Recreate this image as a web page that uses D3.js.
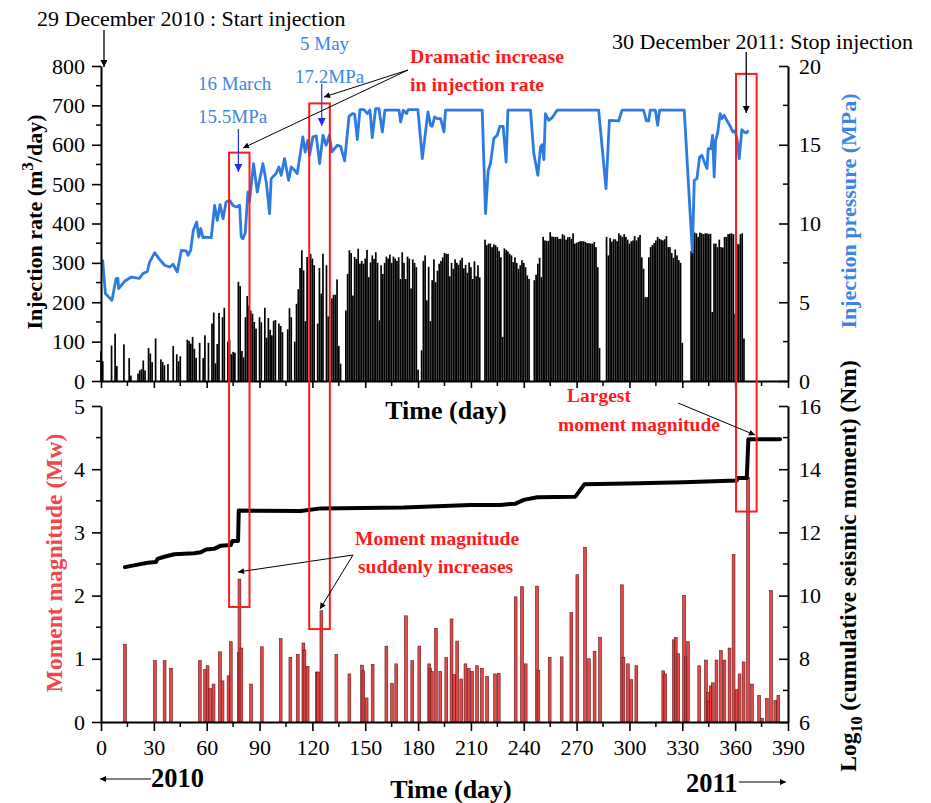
<!DOCTYPE html>
<html><head><meta charset="utf-8">
<script src="https://cdn.jsdelivr.net/npm/d3@7"></script>
<style>body{margin:0;background:#fff}svg{display:block}</style>
</head><body>
<svg id="chart" width="931" height="803"></svg>
<script>
// ---------- DATA ----------
// daily injection rate (m3/day), day 0 .. 365
const rateValues = [
76,50,0,0,0,0,90,0,120,38,
0,0,0,93,0,0,58,14,0,0,
0,19,27,30,52,27,0,84,70,48,
0,108,0,0,55,48,40,0,43,0,
0,89,0,68,50,63,0,0,0,105,
102,95,112,82,59,0,97,0,58,116,
0,97,0,146,174,45,94,173,0,162,
186,0,100,105,68,74,72,0,252,241,
76,60,162,216,192,179,171,150,133,0,
162,149,0,186,110,160,130,116,153,155,
0,146,140,124,0,0,131,185,162,0,
100,196,233,287,332,281,152,315,0,323,
311,294,0,146,287,222,323,0,294,164,
0,210,219,219,258,89,44,0,0,179,
272,332,325,217,315,310,336,298,305,298,
311,333,264,301,319,310,327,300,154,294,
272,300,316,311,321,300,316,311,305,314,
259,327,300,259,316,311,235,309,300,289,
29,0,78,305,319,205,290,152,256,309,
251,280,298,305,314,325,323,323,266,300,
285,309,300,295,307,313,286,295,275,301,
289,259,304,266,294,263,0,0,359,345,
349,349,340,347,345,340,330,314,112,337,
333,329,323,319,302,314,300,285,294,307,
300,289,268,259,0,0,256,270,298,313,
264,366,357,356,356,378,367,366,366,366,
361,361,373,370,359,365,366,361,375,349,
351,353,355,355,355,353,350,350,349,349,
353,340,289,84,0,0,0,366,319,363,
354,360,360,355,375,370,366,373,366,359,
349,355,357,368,357,365,371,314,285,213,
213,314,340,345,350,357,366,361,359,357,
360,368,340,340,325,313,334,319,307,300,
97,0,0,0,0,330,366,377,375,366,
377,375,373,375,375,373,374,175,349,349,
340,359,340,339,366,366,373,374,375,373,
171,349,347,373,375,108
];

// injection pressure (MPa)
const pressDays = [0.9,2.5,6.2,7.3,8.6,9.6,10,13.4,17.2,21.9,23.8,26.3,27.6,30.5,32.9,36.1,39,40.9,43.3,45.6,48.4,49.4,50.9,52.4,54.3,55.5,56.6,57.9,58.9,62.6,64.5,66,67.6,69.3,71,73,74.9,76.8,78.7,79.6,80.6,81.9,83.4,84.3,86.6,88.7,91.9,93.8,95.7,96.6,99.4,101,102.3,104.2,106.5,108,109.9,111.4,114.6,115.9,117.4,118.4,120.3,122.2,124.1,126,127.8,129.7,131,134.2,136,138.3,140.8,142.7,144,145.5,147,149.3,151.2,152.7,154,155.9,157.8,159.7,161.2,169.2,170.1,171.6,173.5,174.3,179.9,182.4,185.6,187.1,188,189.4,190.9,192.8,194.7,195.6,216.4,218.3,219.8,221.1,223,224.9,226.4,228.3,230,231,243.8,245.7,248,249.5,250.4,251.4,252.3,254.2,256.1,259,282.5,286.7,288.6,293.9,295.8,308,309.6,310.9,311.8,314.7,316,317.1,331.1,335.7,336.8,338.3,339.8,341.1,342.5,344,344.7,346.2,347.2,348.1,348.9,350,351.5,352.5,353.8,355.3,357.2,358.7,360,361,362.3,363.8,365.1,366.3,367.6];
const pressValues = [7.7,5.55,5.12,5.76,6.5,6.52,5.87,6.33,6.6,6.52,6.82,6.95,7.55,8.15,7.77,7.35,7.24,7.41,6.92,8.3,8.26,7.98,8.3,9.57,10.1,9.14,9.68,9.1,9.14,9.1,11.15,10.2,11.2,10.3,11.36,11.47,11.15,11.05,11.15,9.14,9.04,9.4,12.0,11.4,13.8,12.0,13.8,12.64,10.63,12.85,13.17,13.59,13.06,14.12,12.74,13.59,13.38,13.17,15.5,14.54,15.28,14.33,15.5,15.56,13.8,15.6,14.97,15.6,14.54,14.97,14.9,13.97,16.8,16.98,16.95,15.33,17.23,17.23,16.98,17.2,15.45,17.29,17.29,15.81,17.2,17.2,16.44,17.2,16.98,17.23,17.23,14.12,17.08,16.23,16.17,16.76,16.66,16.66,15.81,17.2,17.2,10.63,13.38,13.8,15.39,15.6,16.17,16.17,13.9,17.2,17.2,14.44,13.06,14.86,15.0,14.06,16.98,16.55,16.72,17.2,17.2,12.21,16.55,16.51,17.2,17.2,16.51,16.51,17.2,17.2,16.23,17.2,17.2,8.19,12.74,12.85,14.22,14.33,13.9,13.49,14.75,14.75,15.6,12.95,15.28,15.7,16.98,16.66,16.87,16.55,16.17,15.81,15.9,15.4,14.12,15.96,15.81,15.75,15.9];

// earthquakes: day and moment magnitude (Mw)
const quakeDays = [13.6,30.6,36.1,39.7,56.1,59.1,60.5,62.0,63.9,67.5,69.0,72.4,73.7,78.2,78.6,79.7,85.2,91.3,102,107.5,111.7,114.9,115.5,117.3,122.5,123.2,125.1,133.6,141,148.2,148.9,150.8,154.2,162,165.2,167.6,173.1,176.7,180.7,186.3,186.9,187.8,190.1,192.6,196,199,200.5,202.2,204.5,206.9,208.8,210.7,213.5,216.2,219.2,223.7,225.8,235.4,239,241.1,247.5,248.3,254.7,261.5,267,270.4,274.8,277,280.2,283.3,295.7,296.6,299.1,301,303.9,319.2,320.3,325.2,326.3,327.7,331,332,333.2,339.6,343.4,344.5,345,346.2,347.3,349.4,351.9,353.9,356.8,359.1,360.8,362.5,364.8,367.3,369.5,373.6,375.3,378,380.4,382.8,384.5];
const quakeMw = [1.23,0.97,0.97,0.85,0.97,0.83,0.89,0.53,0.60,1.11,0.65,0.73,1.27,1.10,2.26,1.17,0.60,1.19,1.32,1.02,1.07,1.25,1.14,0.88,0.79,0.79,1.76,1.07,0.76,0.90,0.81,0.38,0.91,1.20,0.61,0.92,1.68,0.97,1.20,0.92,0.85,0.80,1.48,0.80,1.02,1.63,0.75,1.28,0.68,0.92,0.85,0.80,0.89,0.85,0.72,0.76,0.77,1.98,2.14,0.92,2.15,0.82,1.02,1.03,1.73,2.33,2.76,1.00,1.12,1.34,2.17,1.02,0.92,0.67,0.89,0.81,0.76,1.30,1.34,1.08,2.00,1.03,1.27,0.89,0.98,0.47,0.33,0.57,0.62,0.98,1.13,0.98,1.17,2.65,0.51,0.76,0.95,3.87,0.60,0.42,0.06,0.37,2.08,0.34,0.42];

// cumulative seismic moment, log10 (Nm)
const momentDays = [13.6,20.8,26.5,31.2,32.1,35.9,41.6,52.9,56.7,59.5,64.2,68,73.7,74.6,77.8,78.2,113.4,124.7,171.9,209.8,226.8,235.3,240,247.6,269.3,274.4,298.6,330.7,360.9,361.5,366.6,367.5,385.5];
const momentLog = [10.9,10.98,11.04,11.06,11.16,11.23,11.31,11.34,11.37,11.46,11.48,11.58,11.6,11.73,11.73,12.69,12.68,12.76,12.79,12.87,12.87,12.91,13.03,13.11,13.13,13.52,13.55,13.59,13.64,13.72,13.72,14.95,14.95];

const dayTicks = [0,30,60,90,120,150,180,210,240,270,300,330,360,390];
const rateTicks = [0,100,200,300,400,500,600,700,800];
const pressTicks = [0,5,10,15,20];
const mwTicks = [0,1,2,3,4,5];
const logTicks = [6,8,10,12,14,16];

// ---------- LAYOUT ----------
const svg = d3.select("#chart");
const FONT = "'Liberation Serif','Times New Roman',serif";
const BLUE_LINE = "#2c7be0", BLUE_TXT = "#3d85e3", RED = "#ff1a1a";
const TICK_FS = 22;

const x = d3.scaleLinear().domain([0,390]).range([101,788]);
const yRate = d3.scaleLinear().domain([0,800]).range([381,66]);
const yPress = d3.scaleLinear().domain([0,20]).range([381,66]);
const yMw = d3.scaleLinear().domain([0,5]).range([722,406]);
const yLog = d3.scaleLinear().domain([6,16]).range([722,406]);

const defs = svg.append("defs");
function marker(id, color, w, h){
  defs.append("marker").attr("id",id).attr("viewBox","0 0 10 10").attr("refX",10).attr("refY",5)
    .attr("markerWidth",w).attr("markerHeight",h).attr("markerUnits","userSpaceOnUse").attr("orient","auto")
    .append("path").attr("d","M0,0 L10,5 L0,10 Z").attr("fill",color);
}
marker("arrK","#000",12,7);
marker("arrKs","#000",11,6);
marker("arrB","#1a2cf0",13,8);

// ---------- TOP PANEL ----------
const gTop = svg.append("g");
gTop.selectAll("rect.rate").data(rateValues).join("rect")
  .attr("x",(d,i)=>x(i)-0.85).attr("width",1.7)
  .attr("y",d=>yRate(d)).attr("height",d=>yRate(0)-yRate(d))
  .attr("fill","#000");

const pressData = pressDays.map((d,i)=>[d,pressValues[i]]);
gTop.append("path").datum(pressData)
  .attr("d",d3.line().x(d=>x(d[0])).y(d=>yPress(d[1])))
  .attr("fill","none").attr("stroke",BLUE_LINE).attr("stroke-width",2.8).attr("stroke-linejoin","round");

function styleAxis(g){
  g.select(".domain").attr("stroke","#000").attr("stroke-width",2);
  g.selectAll(".tick line").attr("stroke","#000").attr("stroke-width",1.6);
  g.selectAll(".tick text").attr("font-family",FONT).attr("font-size",TICK_FS).attr("fill","#000");
}
function minorTicks(g, scale, vals, orient, len){
  vals.forEach(v=>{
    const p = scale(v);
    if(orient==="bottom") g.append("line").attr("class","minor").attr("x1",p).attr("x2",p).attr("y1",0).attr("y2",len);
    else g.append("line").attr("class","minor").attr("y1",p).attr("y2",p).attr("x1",0).attr("x2",-len);
  });
  g.selectAll("line.minor").attr("stroke","#000").attr("stroke-width",1.5);
}
const minorDays = d3.range(15,390,30);

// top x axis (no labels)
const gxTop = svg.append("g").attr("transform","translate(0,381)")
  .call(d3.axisBottom(x).tickValues(dayTicks).tickSize(7).tickFormat("").tickSizeOuter(0));
styleAxis(gxTop);
minorTicks(gxTop,x,minorDays,"bottom",5);

// left rate axis
const gyRate = svg.append("g").attr("transform","translate(101,0)")
  .call(d3.axisLeft(yRate).tickValues(rateTicks).tickFormat(d3.format("d")).tickSize(9).tickPadding(7).tickSizeOuter(0));
styleAxis(gyRate);
minorTicks(gyRate,yRate,d3.range(50,800,100),"left",5);

// right pressure axis (ticks inward)
const gyPress = svg.append("g").attr("transform","translate(788,0)")
  .call(d3.axisRight(yPress).tickValues(pressTicks).tickFormat(d3.format("d")).tickSize(-9).tickPadding(12).tickSizeOuter(0));
styleAxis(gyPress);
minorTicks(gyPress,yPress,[2.5,7.5,12.5,17.5],"left",5);
gyPress.selectAll(".tick text").attr("x",11);

// ---------- BOTTOM PANEL ----------
const gBot = svg.append("g");
gBot.selectAll("rect.eq").data(quakeDays).join("rect")
  .attr("x",d=>x(d)-1.4).attr("width",2.8)
  .attr("y",(d,i)=>yMw(quakeMw[i])).attr("height",(d,i)=>yMw(0)-yMw(quakeMw[i]))
  .attr("fill","#e43a3a").attr("fill-opacity",0.92).attr("stroke","#5a1515").attr("stroke-width",0.6);

const momentData = momentDays.map((d,i)=>[d,momentLog[i]]);
gBot.append("path").datum(momentData)
  .attr("d",d3.line().x(d=>x(d[0])).y(d=>yLog(d[1])))
  .attr("fill","none").attr("stroke","#000").attr("stroke-width",4).attr("stroke-linejoin","round").attr("stroke-linecap","round");

const gxBot = svg.append("g").attr("transform","translate(0,722)")
  .call(d3.axisBottom(x).tickValues(dayTicks).tickFormat(d3.format("d")).tickSize(9).tickPadding(8).tickSizeOuter(0));
styleAxis(gxBot);
minorTicks(gxBot,x,minorDays,"bottom",5);

const gyMw = svg.append("g").attr("transform","translate(101,0)")
  .call(d3.axisLeft(yMw).tickValues(mwTicks).tickFormat(d3.format("d")).tickSize(9).tickPadding(7).tickSizeOuter(0));
styleAxis(gyMw);
minorTicks(gyMw,yMw,[0.5,1.5,2.5,3.5,4.5],"left",5);

const gyLog = svg.append("g").attr("transform","translate(788,0)")
  .call(d3.axisRight(yLog).tickValues(logTicks).tickFormat(d3.format("d")).tickSize(-9).tickPadding(12).tickSizeOuter(0));
styleAxis(gyLog);
minorTicks(gyLog,yLog,[7,9,11,13,15],"left",5);
gyLog.selectAll(".tick text").attr("x",11);

// ---------- AXIS TITLES ----------
function txt(xp,yp,s,opt={}){
  const t = svg.append("text").attr("x",xp).attr("y",yp).attr("font-family",FONT)
    .attr("font-size",opt.size||19).attr("font-weight",opt.bold?"bold":"normal")
    .attr("fill",opt.color||"#000").attr("text-anchor",opt.anchor||"start");
  if(opt.rot) t.attr("transform",`rotate(-90,${xp},${yp})`);
  t.text(s); return t;
}
const t1 = txt(42,222,"",{size:22,bold:true,rot:true,anchor:"middle"});
t1.append("tspan").text("Injection rate (m");
t1.append("tspan").attr("dy",-9).attr("font-size",17).text("3");
t1.append("tspan").attr("dy",9).text("/day)");
txt(856,211,"Injection pressure (MPa)",{size:22,bold:true,rot:true,anchor:"middle",color:BLUE_TXT});
txt(62,563,"Moment magnitude (Mw)",{size:23.5,bold:true,rot:true,anchor:"middle",color:"#f04848"});
const t4 = txt(856,566,"",{size:23.5,bold:true,rot:true,anchor:"middle"});
t4.append("tspan").text("Log");
t4.append("tspan").attr("dy",6).attr("font-size",16).text("10");
t4.append("tspan").attr("dy",-6).text(" (cumulative seismic moment) (Nm)");
txt(446,419,"Time (day)",{size:26,bold:true,anchor:"middle"});
txt(451,798,"Time (day)",{size:26,bold:true,anchor:"middle"});
txt(151,787,"2010",{size:26.5,bold:true});
txt(686,792,"2011",{size:26.5,bold:true});
function arrow(x1,y1,x2,y2,m,color,w){
  svg.append("line").attr("x1",x1).attr("y1",y1).attr("x2",x2).attr("y2",y2)
    .attr("stroke",color||"#000").attr("stroke-width",w||1).attr("marker-end",`url(#${m})`);
}
arrow(151,779,100,779,"arrKs","#000",1);
arrow(739,782,786,782,"arrKs","#000",1);

// ---------- ANNOTATIONS ----------
// red boxes, in data units
const boxes = [
  {d0:72.7,d1:84.3,rateTop:580,mwBottom:1.82},
  {d0:118.2,d1:129.9,rateTop:705,mwBottom:1.47},
  {d0:360.5,d1:372.2,rateTop:780,mwBottom:3.33}
];
svg.selectAll("rect.box").data(boxes).join("rect")
  .attr("x",d=>x(d.d0)).attr("width",d=>x(d.d1)-x(d.d0))
  .attr("y",d=>yRate(d.rateTop)).attr("height",d=>yMw(d.mwBottom)-yRate(d.rateTop))
  .attr("fill","none").attr("stroke",RED).attr("stroke-width",2);

txt(37,26,"29 December 2010 : Start injection",{size:22});
arrow(x(1.7),30,x(1.7),67,"arrK","#000",1.3);
txt(612,49,"30 December 2011: Stop injection",{size:22});
arrow(x(366.3),52,x(366.3),113,"arrK","#000",1.3);

txt(300,50,"5 May",{size:19,color:BLUE_TXT});
txt(295,83,"17.2MPa",{size:19,color:BLUE_TXT});
txt(198,90,"16 March",{size:19,color:BLUE_TXT});
txt(198,123,"15.5MPa",{size:19,color:BLUE_TXT});
arrow(x(78),129,x(78),172,"arrB","#2233ee",1.2);
arrow(x(125.3),84,x(125.3),126,"arrB","#2233ee",1.2);

txt(410,63,"Dramatic increase",{size:19.8,bold:true,color:RED});
txt(410,91,"in injection rate",{size:19.8,bold:true,color:RED});
arrow(408,70,243,148,"arrKs","#000",1);
arrow(408,70,324,97,"arrKs","#000",1);

txt(567,402,"Largest",{size:19.5,bold:true,color:RED});
txt(558,431,"moment magnitude",{size:19.5,bold:true,color:RED});
arrow(678,403,755,435,"arrKs","#000",1);

txt(355,545,"Moment magnitude",{size:19.5,bold:true,color:RED});
txt(358,573,"suddenly increases",{size:19.5,bold:true,color:RED});
arrow(353,555,238,572,"arrKs","#000",1);
arrow(353,555,320,609,"arrKs","#000",1);
</script>
</body></html>
